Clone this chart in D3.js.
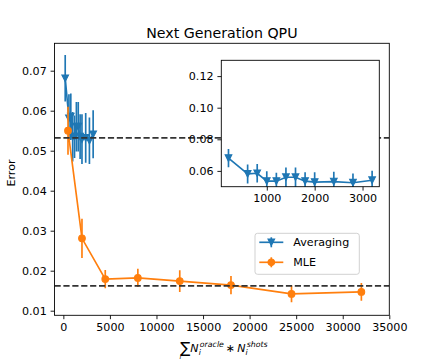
<!DOCTYPE html>
<html>
<head>
<meta charset="utf-8">
<script src="https://cdn.jsdelivr.net/npm/d3@7"></script>
<style>
body { margin: 0; background: #fff; }
svg { display: block; font-family: "DejaVu Sans", sans-serif; }
</style>
</head>
<body>
<div id="chart"></div>
<script>
// data
var avgX = [200, 600, 800, 1000, 1200, 1400, 1600, 1800, 2000, 2400, 2800, 3200];
var avgY = [0.0681, 0.0581, 0.0585, 0.0535, 0.0535, 0.0560, 0.0560, 0.0535, 0.0529, 0.0532, 0.0525, 0.0541];
var avgErr = [0.0058, 0.0060, 0.0058, 0.0062, 0.0053, 0.0062, 0.0062, 0.0056, 0.0062, 0.0062, 0.0058, 0.0060];

var mleX = [500, 2000, 4500, 8000, 12500, 18000, 24500, 32000];
var mleY = [0.0550, 0.0281, 0.0179, 0.0182, 0.0174, 0.0164, 0.0142, 0.0147];
var mleErr = [0.0060, 0.0049, 0.0023, 0.0023, 0.0027, 0.0023, 0.0021, 0.0022];

var refLines = [0.0532, 0.0162];

var xTicks = [0, 5000, 10000, 15000, 20000, 25000, 30000, 35000];
var yTicks = [0.01, 0.02, 0.03, 0.04, 0.05, 0.06, 0.07];
var insetXTicks = [1000, 2000, 3000];
var insetYTicks = [0.06, 0.08, 0.10, 0.12];

var seriesNames = ["Averaging", "MLE"];
var blue = "#1f77b4", orange = "#ff7f0e";

var W = 432, H = 360;
var mrg = {top: 43.3, right: 42.7, bottom: 44.7, left: 54.5};
var ins = {left: 221.3, right: 379.3, top: 60.3, bottom: 186.7};
var fs = 11.1, lw = 1.67, ms = 3.33, tick = 3.9;

var svg = d3.select("#chart").append("svg")
  .attr("width", W).attr("height", H);

var xScale = d3.scaleLinear().domain([-950, 35000]).range([mrg.left, W - mrg.right]);
var yScale = d3.scaleLinear().domain([0.00885, 0.07685]).range([H - mrg.bottom, mrg.top]);
var xIn = d3.scaleLinear().domain([50, 3350]).range([ins.left, ins.right]);
var yIn = d3.scaleLinear().domain([0.05, 0.13]).range([ins.bottom, ins.top]);

var defs = svg.append("defs");
defs.append("clipPath").attr("id", "clipMain").append("rect")
  .attr("x", mrg.left).attr("y", mrg.top)
  .attr("width", W - mrg.right - mrg.left).attr("height", H - mrg.bottom - mrg.top);
defs.append("clipPath").attr("id", "clipIn").append("rect")
  .attr("x", ins.left).attr("y", ins.top)
  .attr("width", ins.right - ins.left).attr("height", ins.bottom - ins.top);

var triDown = "M" + (-ms) + "," + (-ms) + "L" + ms + "," + (-ms) + "L0," + ms + "Z";

function drawSeries(g, xs, ys, errs, sx, sy, color, marker) {
  var pts = xs.map(function (d, i) { return {x: d, y: ys[i], e: errs[i]}; });
  g.selectAll(null).data(pts).enter().append("line")
    .attr("x1", function (d) { return sx(d.x); })
    .attr("x2", function (d) { return sx(d.x); })
    .attr("y1", function (d) { return sy(d.y - d.e); })
    .attr("y2", function (d) { return sy(d.y + d.e); })
    .attr("stroke", color).attr("stroke-width", lw);
  g.append("path")
    .datum(pts)
    .attr("fill", "none").attr("stroke", color).attr("stroke-width", lw)
    .attr("d", d3.line().x(function (d) { return sx(d.x); }).y(function (d) { return sy(d.y); }));
  if (marker == "tri") {
    g.selectAll(null).data(pts).enter().append("path")
      .attr("d", triDown)
      .attr("transform", function (d) { return "translate(" + sx(d.x) + "," + sy(d.y) + ")"; })
      .attr("fill", color).attr("stroke", color).attr("stroke-width", 1.1);
  } else {
    g.selectAll(null).data(pts).enter().append("circle")
      .attr("cx", function (d) { return sx(d.x); })
      .attr("cy", function (d) { return sy(d.y); })
      .attr("r", ms)
      .attr("fill", color).attr("stroke", color).attr("stroke-width", 1.1);
  }
}

function styleAxis(g) {
  g.attr("font-size", fs).attr("font-family", "DejaVu Sans");
  g.select(".domain").remove();
  g.selectAll(".tick line").attr("stroke", "#000").attr("stroke-width", 0.89);
  g.selectAll(".tick text").attr("fill", "#000");
}

// main axes
var main = svg.append("g").attr("clip-path", "url(#clipMain)");
drawSeries(main.append("g"), avgX, avgY, avgErr, xScale, yScale, blue, "tri");
drawSeries(main.append("g"), mleX, mleY, mleErr, xScale, yScale, orange, "circle");

main.selectAll(".ref").data(refLines).enter().append("line")
  .attr("x1", mrg.left).attr("x2", W - mrg.right)
  .attr("y1", function (d) { return yScale(d); })
  .attr("y2", function (d) { return yScale(d); })
  .attr("stroke", "#333").attr("stroke-width", lw)
  .attr("stroke-dasharray", "6.2,2.7");

svg.append("g")
  .attr("transform", "translate(0," + (H - mrg.bottom) + ")")
  .call(d3.axisBottom(xScale).tickValues(xTicks).tickSize(tick).tickPadding(tick).tickFormat(d3.format("d")))
  .call(styleAxis);
svg.append("g")
  .attr("transform", "translate(" + mrg.left + ",0)")
  .call(d3.axisLeft(yScale).tickValues(yTicks).tickSize(tick).tickPadding(tick).tickFormat(d3.format(".2f")))
  .call(styleAxis);

svg.append("rect")
  .attr("x", mrg.left).attr("y", mrg.top)
  .attr("width", W - mrg.right - mrg.left).attr("height", H - mrg.bottom - mrg.top)
  .attr("fill", "none").attr("stroke", "#000").attr("stroke-width", 0.89);

// legend
var legend = svg.append("g").attr("transform", "translate(255,233.3)");
legend.append("rect")
  .attr("width", 104.3).attr("height", 41).attr("rx", 2.5)
  .attr("fill", "#fff").attr("fill-opacity", 0.8)
  .attr("stroke", "#cccccc").attr("stroke-width", 0.9);
var legRows = legend.selectAll(".row").data(seriesNames).enter().append("g")
  .attr("transform", function (d, i) { return "translate(0," + (9 + i * 20) + ")"; });
legRows.append("line")
  .attr("x1", 4.3).attr("x2", 28.3)
  .attr("stroke", function (d, i) { return i == 0 ? blue : orange; })
  .attr("stroke-width", lw);
legRows.append("line")
  .attr("x1", 16.3).attr("x2", 16.3).attr("y1", -5).attr("y2", 5)
  .attr("stroke", function (d, i) { return i == 0 ? blue : orange; })
  .attr("stroke-width", lw);
legRows.append("path")
  .attr("d", function (d, i) { return i == 0 ? triDown : d3.symbol(d3.symbolCircle, Math.PI * ms * ms)(); })
  .attr("transform", "translate(16.3,0)")
  .attr("fill", function (d, i) { return i == 0 ? blue : orange; })
  .attr("stroke", function (d, i) { return i == 0 ? blue : orange; })
  .attr("stroke-width", 1.1);
legRows.append("text")
  .attr("x", 38.3).attr("dy", "0.35em")
  .attr("font-size", fs)
  .text(function (d) { return d; });

// inset axes
svg.append("rect")
  .attr("x", ins.left).attr("y", ins.top)
  .attr("width", ins.right - ins.left).attr("height", ins.bottom - ins.top)
  .attr("fill", "#fff");
var inset = svg.append("g").attr("clip-path", "url(#clipIn)");
drawSeries(inset.append("g"), avgX, avgY, avgErr, xIn, yIn, blue, "tri");

svg.append("g")
  .attr("transform", "translate(0," + ins.bottom + ")")
  .call(d3.axisBottom(xIn).tickValues(insetXTicks).tickSize(tick).tickPadding(tick).tickFormat(d3.format("d")))
  .call(styleAxis);
svg.append("g")
  .attr("transform", "translate(" + ins.left + ",0)")
  .call(d3.axisLeft(yIn).tickValues(insetYTicks).tickSize(tick).tickPadding(tick).tickFormat(d3.format(".2f")))
  .call(styleAxis);
svg.append("rect")
  .attr("x", ins.left).attr("y", ins.top)
  .attr("width", ins.right - ins.left).attr("height", ins.bottom - ins.top)
  .attr("fill", "none").attr("stroke", "#000").attr("stroke-width", 0.89);

// title and labels
svg.append("text")
  .attr("x", (mrg.left + W - mrg.right) / 2).attr("y", 38.3)
  .attr("text-anchor", "middle").attr("font-size", 14.2)
  .text("Next Generation QPU");

svg.append("text")
  .attr("transform", "translate(15," + 173 + ") rotate(-90)")
  .attr("text-anchor", "middle").attr("font-size", fs)
  .text("Error");

var xl = svg.append("text")
  .attr("x", (mrg.left + W - mrg.right) / 2 + 2).attr("y", 352)
  .attr("text-anchor", "middle").attr("font-size", fs);
xl.append("tspan").attr("font-size", 15).attr("dy", 1).text("\u2211");
xl.append("tspan").attr("font-style", "italic").attr("dy", -1).text("N");
xl.append("tspan").attr("font-size", 7.8).attr("font-style", "italic").attr("dy", 2.5).text("i");
xl.append("tspan").attr("font-size", 7.8).attr("font-style", "italic").attr("dx", -1).attr("dy", -7.5).text("oracle");
xl.append("tspan").attr("dx", 2).attr("dy", 5).text("\u2217");
xl.append("tspan").attr("font-style", "italic").attr("dx", 2).text("N");
xl.append("tspan").attr("font-size", 7.8).attr("font-style", "italic").attr("dy", 2.5).text("i");
xl.append("tspan").attr("font-size", 7.8).attr("font-style", "italic").attr("dx", -1).attr("dy", -7.5).text("shots");
svg.append("text")
  .attr("x", 180.5).attr("y", 358.8)
  .attr("text-anchor", "middle").attr("font-size", 6.5).attr("font-style", "italic")
  .text("i");
</script>
</body>
</html>
